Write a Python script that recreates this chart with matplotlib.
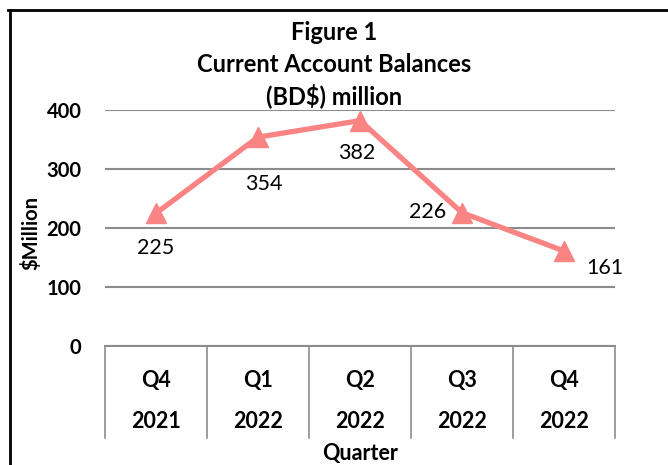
"""Figure 1: current account balances by quarter, line chart with data labels."""

import matplotlib

matplotlib.use("Agg")
import matplotlib.pyplot as plt
from matplotlib.lines import Line2D

quarters = ["Q4", "Q1", "Q2", "Q3", "Q4"]
years = ["2021", "2022", "2022", "2022", "2022"]
balances = [225, 354, 382, 226, 161]
y_ticks = [0, 100, 200, 300, 400]

LINE_COLOR = "#F98483"
GRID_COLOR = "#8C8C8C"
FS = 15.5

plt.rcParams["font.family"] = ["Lato", "DejaVu Sans"]

W, H = 668, 465
fig = plt.figure(figsize=(W / 100, H / 100), dpi=100)

# page-style border (top and left edges visible)
fig.add_artist(Line2D([8 / W, 1], [1 - 10 / H, 1 - 10 / H], color="black", lw=2))
fig.add_artist(Line2D([10 / W, 10 / W], [0, 1 - 10 / H], color="black", lw=2))

left, right, top, bottom = 105, 615, 110, 346
ax = fig.add_axes([left / W, 1 - bottom / H, (right - left) / W, (bottom - top) / H])

x = list(range(1, len(balances) + 1))
ax.plot(x, balances, color=LINE_COLOR, lw=3.8, marker="^", ms=14, zorder=3)

ax.set_xlim(0.5, len(balances) + 0.5)
ax.set_ylim(0, 400)
ax.set_yticks(y_ticks)
ax.set_yticklabels([str(t) for t in y_ticks], fontsize=14.5, fontweight="bold")
ax.tick_params(axis="y", length=0, pad=17)
ax.set_xticks([])
for side in ["left", "right", "top"]:
    ax.spines[side].set_visible(False)
ax.spines["bottom"].set_color(GRID_COLOR)
ax.spines["bottom"].set_linewidth(1.5)
ax.yaxis.grid(True, color=GRID_COLOR, lw=1.5)
ax.set_axisbelow(True)

# category boxes below the axis
xt = ax.get_xaxis_transform()
for b in range(len(balances) + 1):
    ax.plot([b + 0.5, b + 0.5], [0, -0.39], transform=xt, color=GRID_COLOR,
            lw=1.2, clip_on=False)
for i, (q, yr) in enumerate(zip(quarters, years)):
    ax.text(i + 1, -0.145, q, transform=xt, ha="center", va="center",
            fontsize=FS, fontweight="bold")
    ax.text(i + 1, -0.322, yr, transform=xt, ha="center", va="center",
            fontsize=FS, fontweight="bold")
ax.text(0.5, -0.455, "Quarter", transform=ax.transAxes, ha="center",
        va="center", fontsize=FS, fontweight="bold")

# data labels
offsets = [(0, -35), (6, -47), (-3, -32), (-34, 1), (41, -17)]
for xi, v, (dx, dy) in zip(x, balances, offsets):
    ax.annotate(str(v), (xi, v), xytext=(dx, dy), textcoords="offset pixels",
                ha="center", va="center", fontsize=FS)

ax.set_ylabel("$Million", fontsize=14.5, fontweight="bold")
ax.yaxis.set_label_coords(-0.125, 0.48)

fig.text(0.5, 1 - 32 / H, "Figure 1", ha="center", va="center",
         fontsize=17, fontweight="bold")
fig.text(0.5, 1 - 64 / H, "Current Account Balances", ha="center",
         va="center", fontsize=17, fontweight="bold")
fig.text(0.5, 1 - 96 / H, "(BD$) million", ha="center", va="center",
         fontsize=17, fontweight="bold")

fig.savefig("out.png", dpi=100)
